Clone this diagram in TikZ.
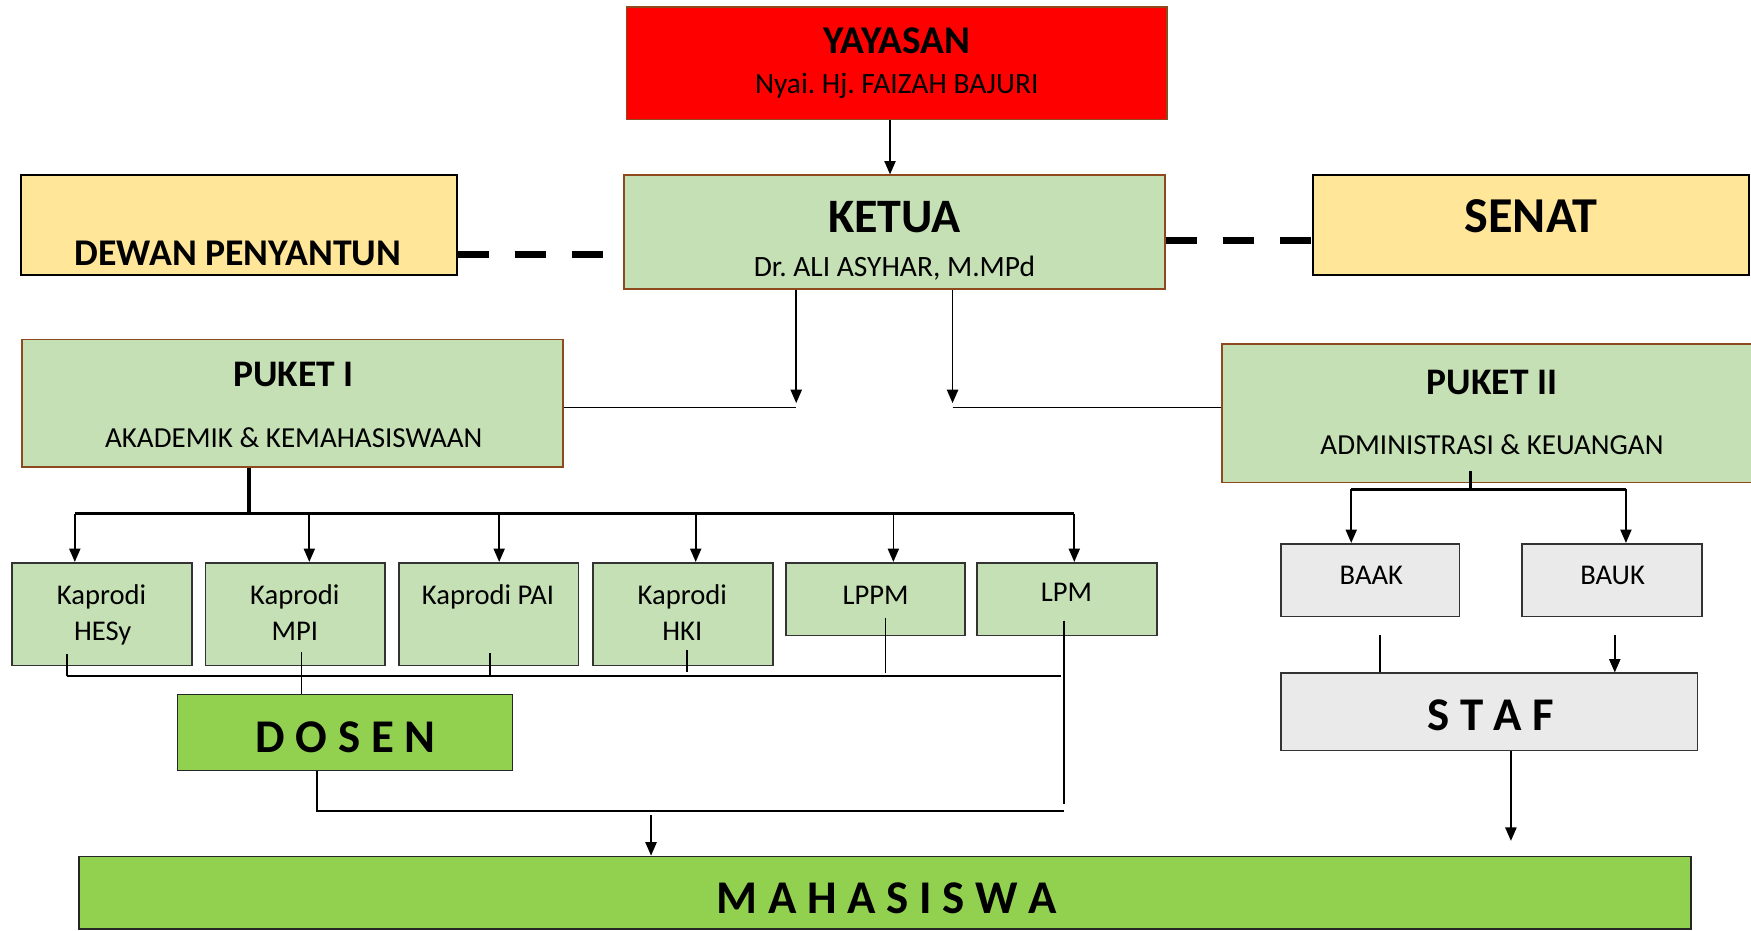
\documentclass[tikz,border=0pt]{standalone}
\usepackage{fontspec}
\setmainfont{Carlito}
\usetikzlibrary{arrows.meta,fit}
\definecolor{lgreen}{HTML}{C5E0B4}
\definecolor{bgreen}{HTML}{92D050}
\definecolor{lyellow}{HTML}{FFE699}
\definecolor{lgray}{HTML}{EAEAEA}
\definecolor{brownb}{HTML}{8C4A1E}
\frenchspacing
\begin{document}
\begin{tikzpicture}[x=0.5pt,y=-0.5pt,
  box/.style={inner sep=0pt,line width=0.8pt},
  gbox/.style={box,fill=lgreen,draw=black!80},
  graybox/.style={box,fill=lgray,draw=black!80},
  txt/.style={anchor=base,inner sep=0pt},
  arr/.style={-{Triangle[length=6pt,width=5pt]},line width=0.75pt},
  conn/.style={line width=0.75pt},
  bus/.style={line width=1.4pt},
  dsh/.style={line width=3.2pt,dash pattern=on 14pt off 11.5pt},
  fmid/.style={font=\bfseries\fontsize{16.8}{19}\selectfont},
  freg/.style={font=\fontsize{12.8}{15}\selectfont},
  fsub/.style={font=\fontsize{13}{16}\selectfont},
  fspc/.style={font=\bfseries\fontsize{21}{25}\selectfont}]
\useasboundingbox (0,0) rectangle (1568,833);
\clip (0,0) rectangle (1568,833);

% boxes
\node[box,fill=red,draw=brownb,fit={(561,6)(1045,107)}] (yay) {};
\node[box,fill=lgreen,draw=brownb,fit={(559,157)(1043,259)}] (ket) {};
\node[box,fill=lyellow,draw=black,fit={(19,157)(409,246)}] (dew) {};
\node[box,fill=lyellow,draw=black,fit={(1176,157)(1566,246)}] (sen) {};
\node[box,fill=lgreen,draw=brownb,fit={(20,304)(504,418)}] (pk1) {};
\node[box,fill=lgreen,draw=brownb,fit={(1094,308)(1600,432)}] (pk2) {};
\node[gbox,fit={(11,504)(172,596)}] (hes) {};
\node[gbox,fit={(184,504)(345,596)}] (mpi) {};
\node[gbox,fit={(357,504)(518,596)}] (pai) {};
\node[gbox,fit={(531,504)(692,596)}] (hki) {};
\node[gbox,fit={(704,504)(864,569)}] (lppm) {};
\node[gbox,fit={(875,504)(1036,569)}] (lpm) {};
\node[box,fill=bgreen,draw=black!85,fit={(159,622)(459,690)}] (dos) {};
\node[box,fill=bgreen,draw=black!85,fit={(71,767)(1514,832)}] (mhs) {};
\node[graybox,fit={(1147,487)(1307,552)}] (baak) {};
\node[graybox,fit={(1363,487)(1524,552)}] (bauk) {};
\node[graybox,fit={(1147,603)(1520,672)}] (staf) {};

% texts
\node[txt,font=\bfseries\fontsize{17.6}{21}\selectfont] (t1) at (803,48) {YAYASAN};
\node[txt,font=\fontsize{13.2}{16}\selectfont] (t2) at (803,84) {Nyai. Hj. FAIZAH BAJURI};
\node[txt,font=\bfseries\fontsize{21.5}{25}\selectfont] (t3) at (801,208) {KETUA};
\node[txt,font=\fontsize{13.2}{16}\selectfont] (t4) at (801,248) {Dr. ALI ASYHAR, M.MPd};
\node[txt,font=\bfseries\fontsize{16.9}{19}\selectfont] (t5) at (213,238) {DEWAN PENYANTUN};
\node[txt,font=\bfseries\fontsize{22.5}{26}\selectfont] (t6) at (1371,208) {SENAT};
\node[txt,fmid] (t7) at (263,346) {PUKET I};
\node[txt,fsub] (t8) at (263,401) {AKADEMIK \& KEMAHASISWAAN};
\node[txt,fmid] (t9) at (1336,353) {PUKET II};
\node[txt,fsub] (t10) at (1336,407) {ADMINISTRASI \& KEUANGAN};
\node[txt,freg] (t11) at (91,541) {Kaprodi};
\node[txt,freg] (t12) at (92,574) {HESy};
\node[txt,freg] (t13) at (264,541) {Kaprodi};
\node[txt,freg] (t14) at (264,574) {MPI};
\node[txt,freg] (t15) at (437,541) {Kaprodi PAI};
\node[txt,freg] (t16) at (611,541) {Kaprodi};
\node[txt,freg] (t17) at (611,574) {HKI};
\node[txt,freg] (t18) at (784,541) {LPPM};
\node[txt,freg] (t19) at (955,539) {LPM};
\node[txt,freg] (t20) at (1228,523) {BAAK};
\node[txt,freg] (t21) at (1444,523) {BAUK};
\node[txt,fspc] (t22) at (309.5,674) {D O S E N};
\node[txt,fspc] (t23) at (1335,654) {S T A F};
\node[txt,fspc] (t24) at (794,818) {M A H A S I S W A};

% top connectors
\coordinate (a1) at (797,0);
\draw[arr] (yay.south -| a1) -- (ket.north -| a1);
\coordinate (dl) at (0,228);
\draw[dsh] (dew.east |- dl) -- (ket.west |- dl);
\coordinate (dr) at (0,215);
\draw[dsh] (ket.east |- dr) -- (sen.west |- dr);

\coordinate (k1) at (713,361);
\coordinate (k1b) at (713,365);
\draw[arr] (ket.south -| k1) -- (k1);
\draw[conn] (pk1.east |- k1b) -- (k1b);
\coordinate (k2) at (853,361);
\coordinate (k2b) at (853,365);
\draw[arr] (ket.south -| k2) -- (k2);
\draw[conn] (k2b) -- (pk2.west |- k2b);

% PUKET I bus
\coordinate (b1) at (223,460);
\coordinate (bl) at (67,460);
\coordinate (br) at (962,460);
\draw[bus] (pk1.south -| b1) -- (b1);
\draw[bus] (bl) -- (br);
\foreach \xx/\nm in {67/hes,277/mpi,447/pai,623/hki,800/lppm,962/lpm}{
  \coordinate (tmp) at (\xx,460);
  \draw[arr] (tmp) -- (tmp |- \nm.north);
}

% lower bus
\coordinate (lb1) at (60,605);
\coordinate (lb2) at (950,605);
\draw[conn,line width=0.9pt] (lb1) -- (lb2);
\coordinate (s1) at (60,586);
\draw[conn] (s1) -- (s1 |- lb1);
\coordinate (s2) at (270,584);
\draw[conn] (s2) -- (dos.north -| s2);
\coordinate (s3) at (439,585);
\draw[conn] (s3) -- (s3 |- lb1);
\coordinate (s4) at (615,582);
\coordinate (s4e) at (615,602);
\draw[conn] (s4) -- (s4e);
\coordinate (s5) at (793,553);
\coordinate (s5e) at (793,603);
\draw[conn] (s5) -- (s5e);
\coordinate (s6) at (953,556);
\coordinate (s6e) at (953,720);
\draw[conn] (s6) -- (s6e);

% DOSEN to MAHASISWA
\coordinate (d1) at (284,726);
\coordinate (d2) at (953,726);
\draw[conn] (dos.south -| d1) -- (d1) -- (d2);
\coordinate (m1) at (583,730);
\draw[arr] (m1) -- (mhs.north -| m1);

% PUKET II side
\coordinate (p1) at (1317,422);
\coordinate (p1e) at (1317,438);
\draw[bus] (p1) -- (p1e);
\coordinate (pl) at (1210,438);
\coordinate (pr) at (1456,438);
\draw[bus] (pl) -- (pr);
\draw[arr] (pl) -- (baak.north -| pl);
\draw[arr] (pr) -- (bauk.north -| pr);
\coordinate (q1) at (1236,569);
\draw[conn] (q1) -- (staf.north -| q1);
\coordinate (q2) at (1446,569);
\draw[arr] (q2) -- (staf.north -| q2);
\coordinate (q3) at (1353,753);
\draw[arr] (staf.south -| q3) -- (q3);
\end{tikzpicture}
\end{document}
